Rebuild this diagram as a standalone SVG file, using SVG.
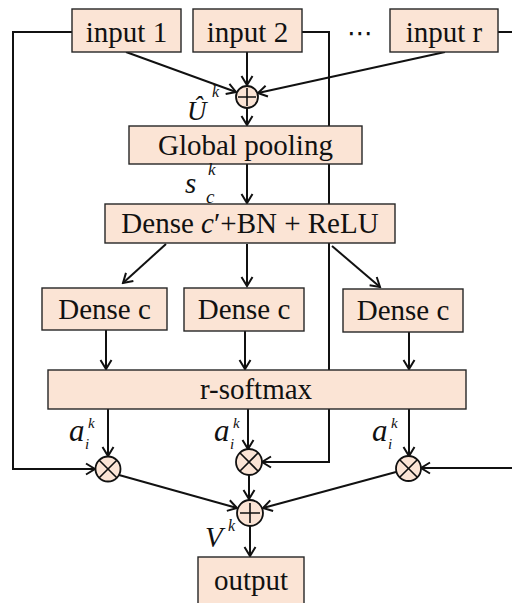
<svg xmlns="http://www.w3.org/2000/svg" width="512" height="603" viewBox="0 0 512 603">
<style>
.box{fill:#fbe4d5;stroke:#262626;stroke-width:1.4}
.t{font-family:"Liberation Serif","Times New Roman",serif;font-size:29px;fill:#111;text-anchor:middle}
.m{font-family:"Liberation Serif","Times New Roman",serif;font-style:italic;fill:#111}
.c{stroke:#111;stroke-width:2;fill:none}
.op{fill:#fbe4d5;stroke:#111;stroke-width:1.8}
.sym{stroke:#111;stroke-width:1.6;fill:none}
</style>
<defs>
<marker id="ah" viewBox="-11 -7 13 14" refX="0" refY="0" markerWidth="13" markerHeight="14" markerUnits="userSpaceOnUse" orient="auto">
<path d="M-9,-5.5 L0,0 L-9,5.5" fill="none" stroke="#111" stroke-width="2"/>
</marker>
</defs>
<g id="connectors">
<path class="c" d="M72,32 H13 V469 H95" marker-end="url(#ah)"/>
<path class="c" d="M302,32 H329 V462 H262" marker-end="url(#ah)"/>
<path class="c" d="M498,32 H512"/>
<path class="c" d="M512,468 H421" marker-end="url(#ah)"/>
<path class="c" d="M126,52 L236,92" marker-end="url(#ah)"/>
<path class="c" d="M247,52 V85" marker-end="url(#ah)"/>
<path class="c" d="M445,52 L258,93" marker-end="url(#ah)"/>
<path class="c" d="M247,108 V125" marker-end="url(#ah)"/>
<path class="c" d="M247,164 V203" marker-end="url(#ah)"/>
<path class="c" d="M166,244 L123,283" marker-end="url(#ah)"/>
<path class="c" d="M247,244 V286" marker-end="url(#ah)"/>
<path class="c" d="M332,246 L380,287" marker-end="url(#ah)"/>
<path class="c" d="M106,330 V369" marker-end="url(#ah)"/>
<path class="c" d="M245,331 V369" marker-end="url(#ah)"/>
<path class="c" d="M409,332 V369" marker-end="url(#ah)"/>
<path class="c" d="M108,409 V456" marker-end="url(#ah)"/>
<path class="c" d="M248,409 V449" marker-end="url(#ah)"/>
<path class="c" d="M409,409 V456" marker-end="url(#ah)"/>
<path class="c" d="M119,475 L237,508" marker-end="url(#ah)"/>
<path class="c" d="M249,475 V499" marker-end="url(#ah)"/>
<path class="c" d="M396,472 L263,508" marker-end="url(#ah)"/>
<path class="c" d="M250,526 V556" marker-end="url(#ah)"/>
</g>
<g id="input1"><rect class="box" x="72" y="9" width="109" height="43"/><text class="t" x="126.5" y="42">input 1</text></g>
<g id="input2"><rect class="box" x="193" y="9" width="109" height="43"/><text class="t" x="247.5" y="42">input 2</text></g>
<g id="dots"><text x="360" y="42" font-family="DejaVu Sans, sans-serif" font-size="26" text-anchor="middle" fill="#111">⋯</text></g>
<g id="inputr"><rect class="box" x="390" y="9" width="108" height="43"/><text class="t" x="444" y="42">input r</text></g>
<g id="sum1"><circle class="op" cx="247" cy="97" r="11"/><path class="sym" d="M238,97 H256 M247,88 V106"/></g>
<g id="label-U"><text class="m" x="187" y="120" font-size="27">Û</text><text class="m" x="212" y="97" font-size="16">k</text></g>
<g id="global"><rect class="box" x="129" y="126" width="233" height="38"/><text class="t" x="245.5" y="155">Global pooling</text></g>
<g id="label-s"><text class="m" x="185" y="193" font-size="29">s</text><text class="m" x="208" y="175" font-size="17">k</text><text class="m" x="206" y="203" font-size="19">c</text></g>
<g id="dense0"><rect class="box" x="105" y="204" width="290" height="39"/><text class="t" x="250" y="233">Dense <tspan font-style="italic">c</tspan>′+BN + ReLU</text></g>
<g id="dense1"><rect class="box" x="42" y="288" width="125" height="42"/><text class="t" x="104.5" y="319">Dense c</text></g>
<g id="dense2"><rect class="box" x="184" y="288" width="120" height="43"/><text class="t" x="244" y="319">Dense c</text></g>
<g id="dense3"><rect class="box" x="343" y="289" width="120" height="43"/><text class="t" x="403" y="320">Dense c</text></g>
<g id="softmax"><rect class="box" x="48" y="370" width="418" height="39"/><text class="t" x="256" y="399">r-softmax</text></g>
<g id="label-a1"><text class="m" x="69" y="441" font-size="31">a</text><text class="m" x="88" y="428" font-size="15">k</text><text class="m" x="85" y="449" font-size="15">i</text></g>
<g id="label-a2"><text class="m" x="214" y="441" font-size="31">a</text><text class="m" x="233" y="428" font-size="15">k</text><text class="m" x="230" y="449" font-size="15">i</text></g>
<g id="label-a3"><text class="m" x="372" y="441" font-size="31">a</text><text class="m" x="391" y="428" font-size="15">k</text><text class="m" x="388" y="449" font-size="15">i</text></g>
<g id="mul1"><circle class="op" cx="108" cy="469" r="12.5"/><path class="sym" d="M99.2,460.2 L116.8,477.8 M116.8,460.2 L99.2,477.8"/></g>
<g id="mul2"><circle class="op" cx="249" cy="462" r="13"/><path class="sym" d="M239.8,452.8 L258.2,471.2 M258.2,452.8 L239.8,471.2"/></g>
<g id="mul3"><circle class="op" cx="408.5" cy="468.5" r="12.5"/><path class="sym" d="M399.7,459.7 L417.3,477.3 M417.3,459.7 L399.7,477.3"/></g>
<g id="sum2"><circle class="op" cx="250" cy="513" r="13"/><path class="sym" d="M240,513 H260 M250,503 V523"/></g>
<g id="label-V"><text class="m" x="205" y="547" font-size="29">V</text><text class="m" x="228" y="531" font-size="16">k</text></g>
<g id="output"><rect class="box" x="198" y="557" width="106" height="50"/><text class="t" x="251" y="590">output</text></g>
</svg>
